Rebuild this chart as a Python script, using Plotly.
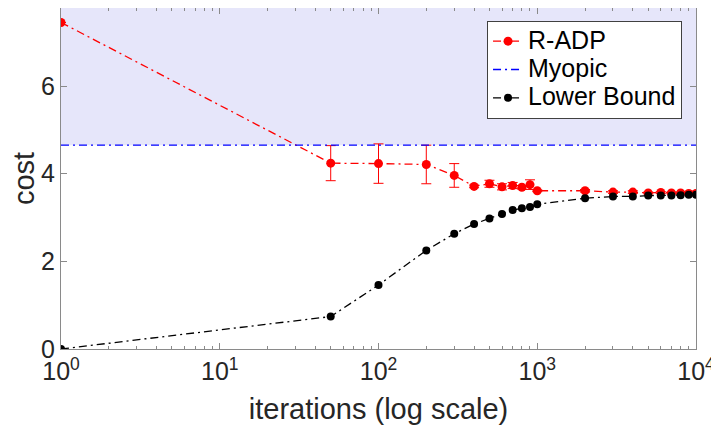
import plotly.graph_objects as go

# R-ADP
radp_x = [1, 50, 100, 200, 300, 400, 500, 600, 700, 800, 900, 1000,
          2000, 3000, 4000, 5000, 6000, 7000, 8000, 9000, 10000]
radp_y = [7.45, 4.24, 4.23, 4.21, 3.96, 3.71, 3.77, 3.70, 3.73, 3.69, 3.75, 3.61,
          3.61, 3.58, 3.58, 3.56, 3.57, 3.56, 3.56, 3.55, 3.55]
radp_err = [0, 0.40, 0.45, 0.44, 0.27, 0.03, 0.08, 0.07, 0.07, 0.04, 0.11, 0.02,
            0.03, 0.03, 0.03, 0.02, 0.02, 0.02, 0.02, 0.02, 0.02]

# Lower bound
lb_x = [1, 50, 100, 200, 300, 400, 500, 600, 700, 800, 900, 1000,
        2000, 3000, 4000, 5000, 6000, 7000, 8000, 9000, 10000]
lb_y = [0.0, 0.74, 1.46, 2.25, 2.63, 2.85, 2.98, 3.08, 3.17, 3.21, 3.24, 3.30,
        3.44, 3.48, 3.48, 3.50, 3.50, 3.50, 3.51, 3.52, 3.52]

# Myopic
myopic_value = 4.65
x_range = [1, 10000]
y_range = [0, 7.78]

series_names = ["R-ADP", "Myopic", "Lower Bound"]
tick_vals = [1, 10, 100, 1000, 10000]
tick_text = ["10<sup>0</sup>", "10<sup>1</sup>", "10<sup>2</sup>", "10<sup>3</sup>", "10<sup>4</sup>"]
minor_vals = [m * d for d in [1, 10, 100, 1000] for m in range(2, 10)]
y_ticks = [0, 2, 4, 6]


def legend_name(s):
    return "<span style='font-size:25px'>" + s + "</span>"


fig = go.Figure()

fig.add_shape(type="rect", xref="paper", yref="y", x0=0, x1=1,
              y0=myopic_value, y1=y_range[1], fillcolor="rgb(230,230,250)",
              line=dict(width=0), layer="below")

dash = "8px,4px,2px,4px"
fig.add_trace(go.Scatter(
    x=radp_x, y=radp_y, name=legend_name(series_names[0]), mode="lines+markers",
    line=dict(color="red", width=1.3, dash=dash),
    marker=dict(color="red", size=9),
    error_y=dict(type="data", array=radp_err, color="red", thickness=1, width=5),
))
fig.add_trace(go.Scatter(
    x=x_range, y=[myopic_value, myopic_value], name=legend_name(series_names[1]), mode="lines",
    line=dict(color="blue", width=1.3, dash=dash),
))
fig.add_trace(go.Scatter(
    x=lb_x, y=lb_y, name=legend_name(series_names[2]), mode="lines+markers",
    line=dict(color="black", width=1.3, dash=dash),
    marker=dict(color="black", size=8),
))

axis_common = dict(showline=True, linecolor="#8a8a8a", linewidth=1, mirror="ticks",
                   ticks="inside", tickcolor="#8a8a8a", ticklen=6, showgrid=False,
                   zeroline=False, automargin=False,
                   tickfont=dict(size=25, color="#262626"))

fig.update_xaxes(type="log", range=[0, 4], tickvals=tick_vals, ticktext=tick_text,
                 title=dict(text="iterations (log scale)", font=dict(size=29, color="#262626"), standoff=14),
                 minor=dict(tickvals=minor_vals, ticks="inside", ticklen=3,
                            tickcolor="#8a8a8a", showgrid=False),
                 **axis_common)
fig.update_yaxes(range=y_range, tickvals=y_ticks,
                 title=dict(text="cost", font=dict(size=29, color="#262626"), standoff=10),
                 **axis_common)

fig.update_layout(
    width=719, height=433,
    margin=dict(l=53, r=31, t=0, b=92),
    plot_bgcolor="white", paper_bgcolor="white",
    font=dict(family="Liberation Sans, Arial, sans-serif", color="#262626"),
    legend=dict(x=0.978, y=0.962, xanchor="right", yanchor="top",
                bgcolor="white", bordercolor="#404040", borderwidth=1,
                font=dict(size=19.5, color="black"), itemwidth=30),
    showlegend=True,
)

fig.write_html("out.html")
